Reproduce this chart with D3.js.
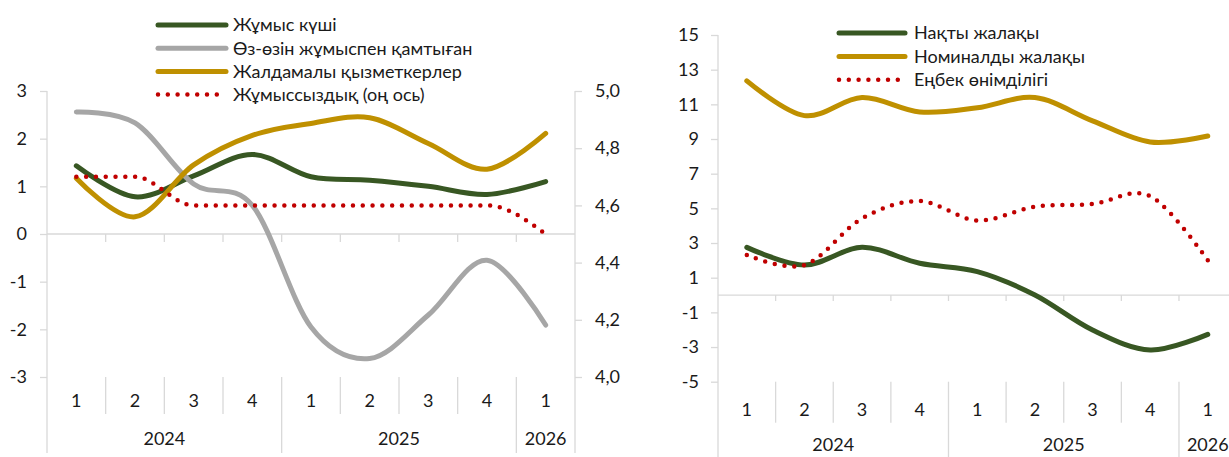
<!DOCTYPE html>
<html>
<head>
<meta charset="utf-8">
<script src="https://cdn.jsdelivr.net/npm/d3@7"></script>
<style>
    body { margin: 0; background: #fff; }
    text { font-family: Lato, "Open Sans", sans-serif; font-size: 18px; fill: #1a1a1a; }
</style>
</head>
<body>
<svg id="chart" width="1229" height="457"></svg>
<script>
// categories
const quarters = ['1', '2', '3', '4', '1', '2', '3', '4', '1'];
const years = ['2024', '2025', '2026'];
const yearSpans = [4, 4, 1];

// left panel: labour market, % y/y and unemployment rate (right axis)
const labourForce = [1.43, 0.78, 1.22, 1.67, 1.2, 1.13, 1.0, 0.83, 1.1];
const selfEmployed = [2.56, 2.33, 1.05, 0.6, -1.95, -2.61, -1.7, -0.55, -1.91];
const hiredWorkers = [1.17, 0.36, 1.45, 2.07, 2.32, 2.44, 1.9, 1.36, 2.11];
const unemployment = [4.7, 4.7, 4.6, 4.6, 4.6, 4.6, 4.6, 4.6, 4.5];

// right panel: wages and productivity, % y/y
const realWage = [2.75, 1.73, 2.75, 1.83, 1.35, 0.0, -2.02, -3.17, -2.27];
const nominalWage = [12.35, 10.35, 11.39, 10.56, 10.8, 11.39, 10.05, 8.83, 9.17];
const productivity = [2.31, 1.73, 4.42, 5.42, 4.3, 5.1, 5.25, 5.71, 2.0];

// tick labels
const leftTicks = [-3, -2, -1, 0, 1, 2, 3];
const unempTicks = [4.0, 4.2, 4.4, 4.6, 4.8, 5.0];
const wageTicks = [-5, -3, -1, 1, 3, 5, 7, 9, 11, 13, 15];

const GREEN = '#385723', GREY = '#a6a6a6', GOLD = '#bf9000', RED = '#c00000', AXIS = '#d9d9d9';

const svg = d3.select('#chart');

function styleLine(sel, s) {
    sel.attr('fill', 'none')
        .attr('stroke', s.color)
        .attr('stroke-width', s.dotted ? 4.5 : 5)
        .attr('stroke-linecap', 'round')
        .attr('stroke-dasharray', s.dotted ? '0 9.8' : null);
}

function drawPanel(p) {
    const g = svg.append('g');
    const x = d3.scaleBand().domain(d3.range(quarters.length)).range([p.x0, p.x1]);
    const cx = i => x(i) + x.bandwidth() / 2;
    const y = d3.scaleLinear().domain(p.domain).range([p.bottom, p.top]);

    // left value axis
    const ay = g.append('g')
        .attr('transform', `translate(${p.x0},0)`)
        .call(d3.axisLeft(y).tickValues(p.ticks).tickSizeInner(7).tickSizeOuter(0)
            .tickPadding(p.pad).tickFormat(d => String(d)));
    ay.select('.domain').remove();
    ay.selectAll('line').attr('stroke', AXIS).attr('stroke-width', 1.3);
    ay.selectAll('text').attr('fill', '#1a1a1a');
    g.append('line').attr('x1', p.x0).attr('x2', p.x0).attr('y1', p.top).attr('y2', p.labelEnd)
        .attr('stroke', AXIS).attr('stroke-width', 1.3);

    // secondary axis
    let y2 = null;
    if (p.domain2) {
        y2 = d3.scaleLinear().domain(p.domain2).range([p.bottom, p.top]);
        const ay2 = g.append('g')
            .attr('transform', `translate(${p.x1},0)`)
            .call(d3.axisRight(y2).tickValues(p.ticks2).tickSizeInner(7).tickSizeOuter(0)
                .tickPadding(13).tickFormat(d => d.toFixed(1).replace('.', ',')));
        ay2.select('.domain').remove();
        ay2.selectAll('line').attr('stroke', AXIS).attr('stroke-width', 1.3);
        ay2.selectAll('text').attr('fill', '#1a1a1a');
        g.append('line').attr('x1', p.x1).attr('x2', p.x1).attr('y1', p.top).attr('y2', p.labelEnd)
            .attr('stroke', AXIS).attr('stroke-width', 1.3);
    }

    // category axis crossing at zero
    const y0 = y(0);
    g.append('line').attr('x1', p.x0).attr('x2', p.x1).attr('y1', y0).attr('y2', y0)
        .attr('stroke', AXIS).attr('stroke-width', 1.3);
    const bounds = d3.range(1, quarters.length).map(i => x(i));
    g.selectAll('.xtick').data(bounds).join('line')
        .attr('x1', d => d).attr('x2', d => d)
        .attr('y1', y0).attr('y2', y0 + p.tickDown)
        .attr('stroke', AXIS).attr('stroke-width', 1.3);

    // multi-level labels below the plot
    let yearStarts = [0];
    yearSpans.forEach(n => yearStarts.push(yearStarts[yearStarts.length - 1] + n));
    const yearBounds = yearStarts.slice(1, -1);
    g.selectAll('.qsep').data(d3.range(1, quarters.length).filter(i => !yearBounds.includes(i))).join('line')
        .attr('x1', i => x(i)).attr('x2', i => x(i))
        .attr('y1', p.bottom).attr('y2', p.bottom + p.qRow)
        .attr('stroke', AXIS).attr('stroke-width', 1.3);
    g.selectAll('.ysep').data(yearBounds).join('line')
        .attr('x1', i => x(i)).attr('x2', i => x(i))
        .attr('y1', p.bottom).attr('y2', p.labelEnd)
        .attr('stroke', AXIS).attr('stroke-width', 1.3);
    g.selectAll('.qlab').data(quarters).join('text')
        .attr('x', (d, i) => cx(i)).attr('y', p.qLabelY).attr('dy', '0.35em')
        .attr('text-anchor', 'middle').text(d => d);
    g.selectAll('.ylab').data(years).join('text')
        .attr('x', (d, i) => {
            const a = x(yearStarts[i]);
            const b = yearStarts[i + 1] < quarters.length ? x(yearStarts[i + 1]) : p.x1;
            return (a + b) / 2;
        })
        .attr('y', p.yLabelY).attr('dy', '0.35em')
        .attr('text-anchor', 'middle').text(d => d);

    // series (Excel-style smoothed lines)
    p.series.forEach(s => {
        const sc = s.secondary ? y2 : y;
        const line = d3.line()
            .x((d, i) => cx(i))
            .y(d => sc(d))
            .curve(s.flat ? d3.curveMonotoneX : d3.curveCatmullRom.alpha(0));
        g.append('path').attr('d', line(s.values)).call(styleLine, s);
    });

    // legend
    const lg = g.append('g');
    p.series.forEach((s, i) => {
        const ly = p.legend.y + i * p.legend.step;
        lg.append('line')
            .attr('x1', p.legend.x).attr('x2', p.legend.x + p.legend.len)
            .attr('y1', ly).attr('y2', ly)
            .call(styleLine, s);
        lg.append('text')
            .attr('x', p.legend.tx).attr('y', ly).attr('dy', '0.35em')
            .text(s.name);
    });
}

drawPanel({
    x0: 47, x1: 575, top: 91, bottom: 377, labelEnd: 453,
    domain: [-3, 3], ticks: leftTicks, pad: 13,
    domain2: [4, 5], ticks2: unempTicks,
    tickDown: 8, qRow: 37, qLabelY: 401, yLabelY: 439,
    legend: { x: 158, len: 68, tx: 233, y: 25, step: 23.2 },
    series: [
        { name: 'Жұмыс күші', values: labourForce, color: GREEN },
        { name: 'Өз-өзін жұмыспен қамтыған', values: selfEmployed, color: GREY },
        { name: 'Жалдамалы қызметкерлер', values: hiredWorkers, color: GOLD },
        { name: 'Жұмыссыздық (оң ось)', values: unemployment, color: RED, dotted: true, secondary: true, flat: true }
    ]
});

drawPanel({
    x0: 718, x1: 1236.6, top: 35, bottom: 381.7, labelEnd: 460,
    domain: [-5, 15], ticks: wageTicks, pad: 12,
    tickDown: 6, qRow: 41, qLabelY: 410, yLabelY: 445,
    legend: { x: 839, len: 66, tx: 914, y: 33, step: 23.4 },
    series: [
        { name: 'Нақты жалақы', values: realWage, color: GREEN },
        { name: 'Номиналды жалақы', values: nominalWage, color: GOLD },
        { name: 'Еңбек өнімділігі', values: productivity, color: RED, dotted: true }
    ]
});
</script>
</body>
</html>
